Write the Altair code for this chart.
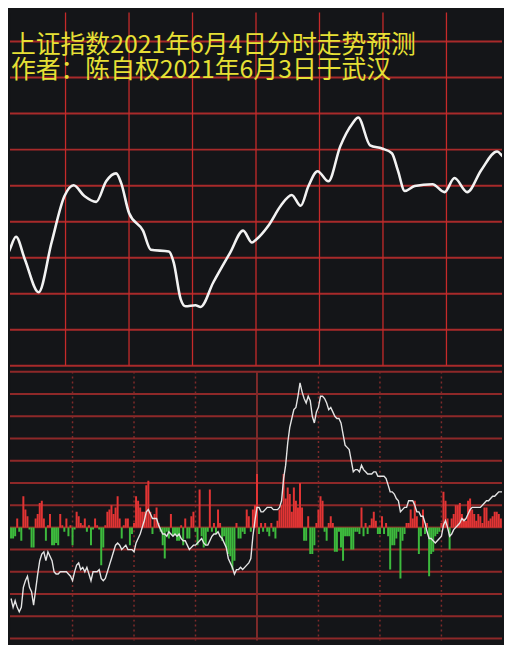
import altair as alt
import pandas as pd

# ---------------- text ----------------
title_lines = ["上证指数2021年6月4日分时走势预测", "作者：陈自权2021年6月3日于武汉"]

# ---------------- top panel: forecast curve (minute of session, level in grid tenths) ----------------
top_minutes = [0, 2.3, 6.6, 10.8, 17.3, 23.4, 29.5, 33.8, 38.9, 44.5, 49.2, 53.9, 56.3, 60, 66.6,
               70.3, 78.8, 81.1, 84.4, 86.7, 91.4, 93.8, 99.8, 107.8, 113.9, 118.1, 120, 126.1,
               131.7, 136.9, 141.1, 144.8, 149.1, 154.2, 159.8, 165.5, 168.3, 173.9, 179.5, 184.2,
               187, 190.3, 195, 203.4, 209.1, 213.8, 219.8, 226.4, 233.9, 237.2, 240]
top_levels = [30.7, 30.9, 35.8, 29.5, 20.4, 34.2, 47.1, 50.1, 47.1, 45.5, 51.2, 53.4, 50.7, 42.4, 37.5,
              32.2, 31.7, 28.7, 18.5, 16.5, 16.8, 16.3, 23.1, 31.4, 37.5, 34.2, 35, 39.1,
              44.4, 47.4, 44.4, 49.9, 54, 51.2, 60.9, 67.2, 68.9, 61.2, 60.3, 59,
              54.3, 48.5, 49.9, 50.4, 48.2, 52.1, 48.2, 54.3, 59.5, 57.9, 57.6]

# ---------------- bottom panel: per-minute flow bars and line ----------------
flow_values = [
    -5, -5, -4, 4, -2, -6, 14, 8, 5, -1,
    -9, -9, 4, 6, 11, 12, 4, -6, 1, 6,
    -8, -8, -7, -8, 6, 1, -2, 4, -4, 1,
    -8, -1, 7, 5, 2, 1, 4, -2, 1, -8,
    -1, 4, 1, -1, -17, -9, 1, 7, 8, 10,
    6, 9, 14, 4, -5, 1, 4, 4, -8, -3,
    2, 14, 12, 9, 7, 7, 19, 21, 7, -3,
    6, 9, 2, -2, -8, -14, -2, -5, 6, -4,
    -3, -6, -6, 1, -8, 4, -5, -5, 5, 7,
    -2, -8, 17, -4, -9, -8, -2, 17, -2, 2,
    -3, 8, 2, -6, -4, -9, -12, -13, -19, -15,
    2, -5, -5, -2, -3, 8, 5, -2, 8, 10,
    24, -3, 2, -2, 2, -2, -4, 2, -2, -5,
    3, 8, 10, 24, 13, 18, 15, 7, 18, 12,
    9, 20, 9, -6, -6, 5, -12, -12, -8, 2,
    8, 14, 12, -2, -6, 2, 5, 2, -11, -11,
    -2, -9, -15, -4, -4, -4, -10, -10, -2, -2,
    -3, 9, -4, 2, -3, 1, 4, 7, 3, -3,
    -3, 5, -3, 2, -4, -19, -8, -8, -5, -2,
    -23, -6, -3, 2, 2, 8, 4, 12, 5, -12,
    -4, 8, -3, 2, -22, -12, -11, -4, -3, -2,
    2, 16, 12, 4, -10, 4, 6, 10, 10, 11,
    6, 4, 3, 12, 13, 8, 6, 3, 6, 5,
    2, 9, 9, 3, 4, 5, 7, 7, 6, 4, 3,
]
line_values = [
    -32, -36, -33, -36, -38, -36, -27, -24, -22, -27,
    -29, -35, -28, -21, -15, -12, -11, -15, -11, -13,
    -15, -20, -21, -21, -20, -20, -20, -20, -21, -22,
    -24, -20, -17, -16, -19, -18, -20, -18, -21, -24,
    -20, -20, -20, -19, -23, -24, -23, -20, -17, -14,
    -11, -8, -7, -8, -10, -9, -8, -10, -10, -10,
    -11, -7, -5, -3, 0, 3, 7, 8, 6, 4,
    4, 4, 1, -1, -3, -3, -4, -2, -3, -4,
    -3, -4, -3, -5, -6, -6, -8, -10, -9, -8,
    -8, -7, -6, -5, -7, -8, -8, -6, -4, -3,
    -3, -2, -4, -5, -7, -9, -14, -16, -18, -21,
    -19, -19, -18, -19, -18, -17, -16, -14, -4, 3,
    9, 9, 7, 7, 8, 9, 9, 9, 8, 8,
    8, 9, 12, 22, 28, 38, 45, 49, 53, 54,
    59, 65, 61, 58, 56, 59, 57, 50, 47, 52,
    54, 59, 59, 58, 56, 53, 54, 52, 50, 49,
    49, 47, 42, 37, 36, 35, 30, 25, 26, 26,
    25, 28, 26, 25, 24, 24, 24, 25, 25, 23,
    23, 23, 23, 22, 19, 16, 16, 15, 13, 12,
    7, 8, 9, 9, 12, 12, 12, 10, 7, 7,
    5, 5, 2, -2, -5, -5, -6, -7, -6, -5,
    -4, 1, 3, 0, -4, -3, -1, 0, 1, 2,
    4, 3, 4, 6, 8, 9, 9, 9, 9, 9,
    10, 11, 12, 12, 13, 14, 14, 15, 16, 16, 16,
]

top_grid_levels = [0, 10, 20, 30, 40, 50, 60, 70, 80, 90]
grid_minutes = [30, 60, 90, 150, 180, 210]
mid_minute = [120]
bottom_grid_levels = [-50, -40, -30, -20, -10, 0, 10, 20, 30, 40, 50, 60, 70]

BG = "#141518"
W = 496

# ---------------- top panel ----------------
top_df = pd.DataFrame({"minute": top_minutes, "level": top_levels})
tx = alt.Scale(domain=[3.75, 236.25], nice=False, zero=False)
ty = alt.Scale(domain=[0, 98.07], nice=False, zero=False)

t_h = alt.Chart(pd.DataFrame({"level": top_grid_levels})).mark_rule(
    color="#a82a2a", strokeWidth=2).encode(y=alt.Y("level:Q", scale=ty, axis=None))
t_v = alt.Chart(pd.DataFrame({"minute": grid_minutes + mid_minute})).mark_rule(
    color="#c62a2a", strokeWidth=1.3).encode(x=alt.X("minute:Q", scale=tx, axis=None))
t_line = alt.Chart(top_df).mark_line(
    color="#f2f2f2", strokeWidth=2.6, interpolate="monotone", clip=True).encode(
    x=alt.X("minute:Q", scale=tx, axis=None), y=alt.Y("level:Q", scale=ty, axis=None))
t_text = alt.Chart(pd.DataFrame({"t": ["\n".join(title_lines)]})).mark_text(
    align="left", baseline="alphabetic", fontSize=25, font="Noto Sans CJK SC",
    color="#e6e035", lineBreak="\n", lineHeight=25).encode(
    x=alt.value(1), y=alt.value(41), text="t:N")

top = alt.layer(t_h, t_v, t_line, t_text).properties(width=W, height=356)

# ---------------- bottom panel ----------------
bottom_df = pd.DataFrame({"minute": list(range(len(flow_values))),
                          "flow": flow_values, "level": line_values})
bx = alt.Scale(domain=[1.897, 237.15], nice=False, zero=False)
by = alt.Scale(domain=[-50.9, 70.1], nice=False, zero=False)

b_h = alt.Chart(pd.DataFrame({"level": bottom_grid_levels})).mark_rule(
    color="#8e2828", strokeWidth=2).encode(y=alt.Y("level:Q", scale=by, axis=None))
b_v = alt.Chart(pd.DataFrame({"minute": grid_minutes})).mark_rule(
    color="#7e2a2a", strokeWidth=1.5, strokeDash=[2, 3]).encode(
    x=alt.X("minute:Q", scale=bx, axis=None))
b_mid = alt.Chart(pd.DataFrame({"minute": mid_minute})).mark_rule(
    color="#7e2a2a", strokeWidth=2).encode(x=alt.X("minute:Q", scale=bx, axis=None))
b_bars = alt.Chart(bottom_df).mark_bar(size=2, clip=True).encode(
    x=alt.X("minute:Q", scale=bx, axis=None),
    y=alt.Y("flow:Q", scale=by, axis=None),
    y2=alt.datum(0),
    color=alt.condition("datum.flow > 0", alt.value("#e23434"), alt.value("#3dba3d")))
b_line = alt.Chart(bottom_df).mark_line(color="#e4e4e4", strokeWidth=1.4, clip=True).encode(
    x=alt.X("minute:Q", scale=bx, axis=None), y=alt.Y("level:Q", scale=by, axis=None))

bottom = alt.layer(b_h, b_v, b_mid, b_bars, b_line).properties(width=W, height=271)

chart = alt.vconcat(top, bottom, spacing=2).properties(
    padding=0, background=BG).configure_view(stroke="transparent", fill=BG)

chart.save("out.html", embed_options={"renderer": "svg", "actions": False})
